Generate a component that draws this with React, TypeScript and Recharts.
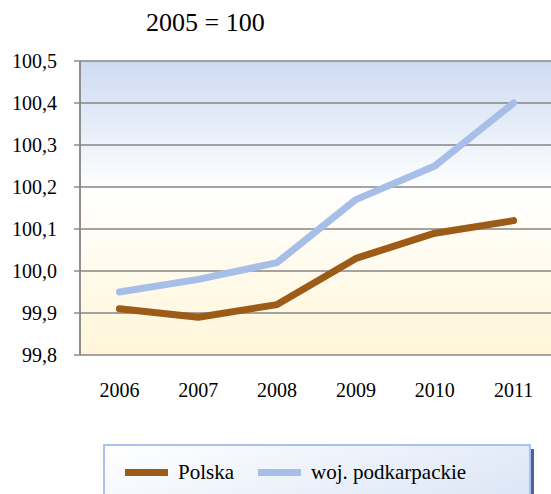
import { LineChart, Line, XAxis, YAxis, CartesianGrid, Legend } from 'recharts'

const years = ['2006', '2007', '2008', '2009', '2010', '2011']
const polska = [99.91, 99.89, 99.92, 100.03, 100.09, 100.12]
const podkarpackie = [99.95, 99.98, 100.02, 100.17, 100.25, 100.4]
const yTicks = [99.8, 99.9, 100.0, 100.1, 100.2, 100.3, 100.4, 100.5]
const boundaryTicks = [0, 1, 2, 3, 4, 5, 6]
const centerTicks = years.map((_, i) => i + 0.5)

const data = years.map((year, i) => ({
  x: i + 0.5,
  year,
  polska: polska[i],
  podkarpackie: podkarpackie[i],
}))

const serif = "'Liberation Serif', 'Times New Roman', Times, serif"
const gridColor = '#868686'

const fmt = (v: number) => v.toFixed(1).replace('.', ',')

function LegendBox({ payload }: any) {
  return (
    <div
      style={{
        width: 428,
        height: 60,
        boxSizing: 'border-box',
        border: '2px solid #a9c1ee',
        background: 'linear-gradient(160deg, #ffffff 0%, #e9effa 60%, #dbe5f6 100%)',
        boxShadow: '3px 5px 0 #50629a',
        display: 'flex',
        alignItems: 'flex-start',
        paddingTop: 14,
        paddingLeft: 20,
        fontFamily: serif,
        fontSize: 21,
        color: '#000',
      }}
    >
      {(payload || []).map((p: any, i: number) => (
        <div key={p.value} style={{ display: 'flex', alignItems: 'center', marginRight: i === 0 ? 24 : 0 }}>
          <span style={{ display: 'inline-block', width: 43, height: 7, background: p.color, marginRight: 10 }} />
          <span>{p.value}</span>
        </div>
      ))}
    </div>
  )
}

const tickStyle = { fill: '#000', fontSize: 20, fontFamily: serif, style: { fontFamily: serif } }

export default function App() {
  return (
    <div
      style={{
        position: 'fixed',
        left: 0,
        top: 0,
        width: 551,
        height: 494,
        overflow: 'hidden',
        background: '#fff',
        fontFamily: serif,
      }}
    >
      <div
        style={{
          position: 'absolute',
          left: 146,
          top: 8,
          fontFamily: serif,
          fontSize: 26,
          color: '#000',
          whiteSpace: 'nowrap',
        }}
      >
        2005 = 100
      </div>
      <LineChart
        width={570}
        height={494}
        data={data}
        margin={{ top: 61, right: 17, left: 0, bottom: 49 }}
        style={{ fontFamily: serif }}
      >
        <defs>
          <linearGradient id="plotBg" x1="0" y1="0" x2="0" y2="1">
            <stop offset="0%" stopColor="#cddbf2" />
            <stop offset="44%" stopColor="#ffffff" />
            <stop offset="100%" stopColor="#fff6d8" />
          </linearGradient>
        </defs>
        <CartesianGrid xAxisId="grid" stroke={gridColor} strokeWidth={1.4} fill="url(#plotBg)" fillOpacity={1} />
        <XAxis
          xAxisId="grid"
          type="number"
          dataKey="x"
          domain={[0, 6]}
          ticks={boundaryTicks}
          tick={false}
          tickSize={7}
          height={0}
          axisLine={{ stroke: gridColor, strokeWidth: 1.4 }}
          tickLine={{ stroke: gridColor, strokeWidth: 1.4 }}
        />
        <XAxis
          xAxisId="labels"
          type="number"
          dataKey="x"
          domain={[0, 6]}
          ticks={centerTicks}
          tickFormatter={(v: number) => years[Math.floor(v)]}
          tick={tickStyle}
          tickSize={0}
          tickMargin={28}
          height={30}
          axisLine={false}
          tickLine={false}
        />
        <YAxis
          type="number"
          domain={[99.8, 100.5]}
          ticks={yTicks}
          tickFormatter={fmt}
          width={80}
          tickSize={6}
          tickMargin={17}
          tick={tickStyle}
          axisLine={{ stroke: gridColor, strokeWidth: 1.4 }}
          tickLine={{ stroke: gridColor, strokeWidth: 1.4 }}
          allowDataOverflow
        />
        <Legend
          content={<LegendBox />}
          wrapperStyle={{ position: 'absolute', left: 103, top: 444, width: 428, height: 60 }}
        />
        <Line
          xAxisId="grid"
          type="linear"
          dataKey="polska"
          name="Polska"
          stroke="#9c5b17"
          strokeWidth={7}
          strokeLinecap="round"
          strokeLinejoin="round"
          dot={false}
          activeDot={false}
          isAnimationActive={false}
        />
        <Line
          xAxisId="grid"
          type="linear"
          dataKey="podkarpackie"
          name="woj. podkarpackie"
          stroke="#a7bfe8"
          strokeWidth={7}
          strokeLinecap="round"
          strokeLinejoin="round"
          dot={false}
          activeDot={false}
          isAnimationActive={false}
        />
      </LineChart>
    </div>
  )
}
